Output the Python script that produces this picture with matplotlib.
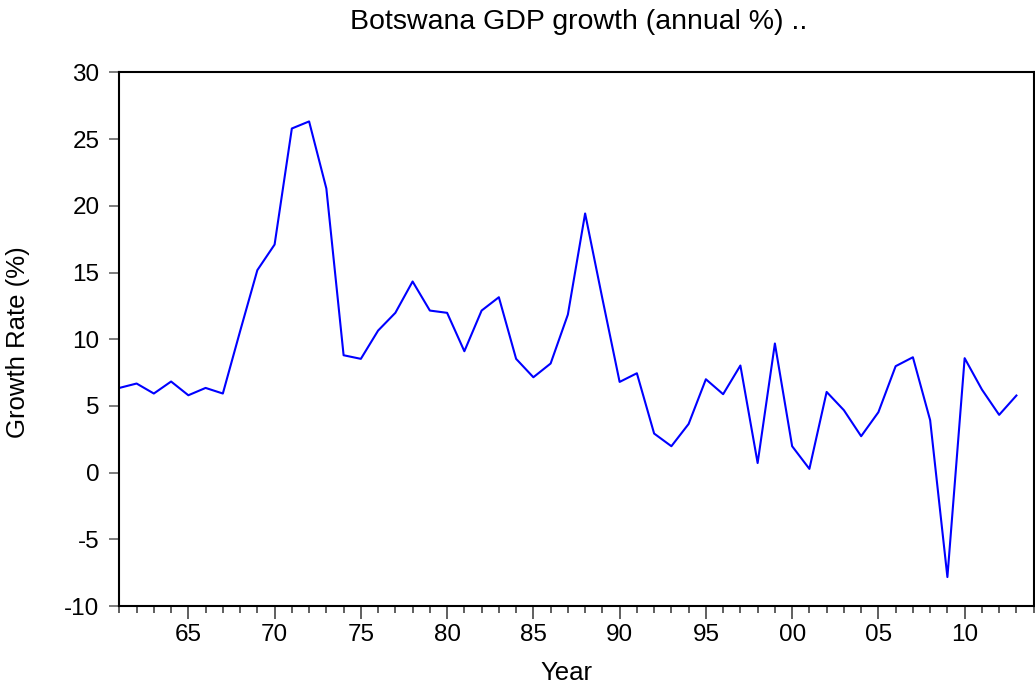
import numpy as np
import matplotlib
matplotlib.use("Agg")
import matplotlib.pyplot as plt
from matplotlib.ticker import MultipleLocator, FuncFormatter

plt.rcParams['font.family'] = ['Liberation Sans', 'DejaVu Sans']
plt.rcParams['axes.unicode_minus'] = False

years = np.arange(1961, 2014)
growth = [6.35, 6.68, 5.93, 6.83, 5.80, 6.35, 5.93, 10.6, 15.18, 17.1,
          25.8, 26.33, 21.3, 8.8, 8.53, 10.65, 11.98, 14.33, 12.15, 11.98,
          9.1, 12.15, 13.15, 8.53, 7.15, 8.18, 11.85, 19.43, 13.05, 6.8,
          7.45, 2.93, 1.98, 3.65, 7.0, 5.88, 8.03, 0.72, 9.68, 1.98,
          0.28, 6.05, 4.68, 2.73, 4.53, 7.98, 8.65, 3.93, -7.83, 8.58,
          6.23, 4.33, 5.78]

fig = plt.figure(figsize=(10.35, 6.87), dpi=100)
ax = fig.add_axes([0.1153, 0.1179, 0.8834, 0.7766])

ax.plot(years, growth, color='#0000ff', lw=1.5)

ax.set_xlim(1961, 2014)
ax.set_ylim(-10, 30)
ax.yaxis.set_major_locator(MultipleLocator(5))
ax.xaxis.set_major_locator(MultipleLocator(5))
ax.xaxis.set_minor_locator(MultipleLocator(1))
ax.xaxis.set_major_formatter(FuncFormatter(lambda v, p: '%02d' % (int(round(v)) % 100)))

for s in ax.spines.values():
    s.set_linewidth(1.5)
ax.tick_params(axis='y', which='major', length=7.2, width=1.2, color='#666666',
               labelsize=17.5, pad=7)
ax.tick_params(axis='x', which='major', length=9, width=1.2, color='#444444',
               labelsize=17.5, pad=4)
ax.tick_params(axis='x', which='minor', length=5, width=1.2, color='#444444')

fig.text(0.559, 1 - 22 / 687, 'Botswana GDP growth (annual %) ..', fontsize=20.5,
         ha='center', va='center')
ax.set_xlabel('Year', fontsize=18.5, va='center')
ax.set_ylabel('Growth Rate (%)', fontsize=18.5, va='center')
ax.xaxis.set_label_coords(0.4886, -0.1256)
ax.yaxis.set_label_coords(-0.1108, 0.495)

fig.savefig('out.png', dpi=100)
